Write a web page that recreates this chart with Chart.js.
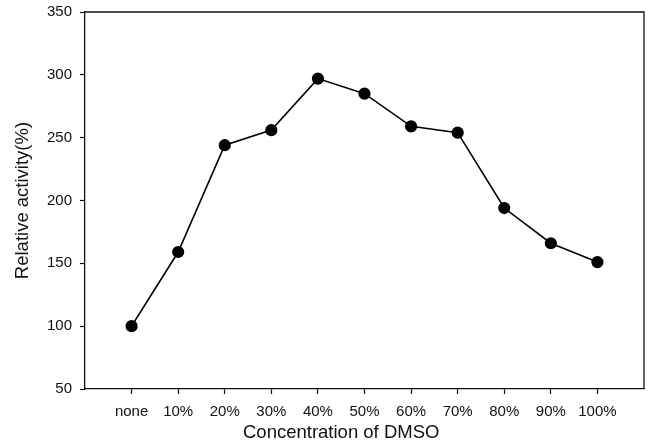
<!DOCTYPE html>
<html>
<head>
<meta charset="utf-8">
<script src="https://cdn.jsdelivr.net/npm/chart.js@4/dist/chart.umd.min.js"></script>
<style>
  html, body { margin: 0; padding: 0; background: #fff; }
  #wrap { width: 651px; height: 445px; }
</style>
</head>
<body>
<div id="wrap"><canvas id="c" width="651" height="445"></canvas></div>
<script>
// DMSO concentration vs. relative enzyme activity
const concentrations = ['none', '10%', '20%', '30%', '40%', '50%', '60%', '70%', '80%', '90%', '100%'];
const activity = [100, 159, 244, 256, 297, 285, 259, 254, 194, 166, 151];
const yTicks = [50, 100, 150, 200, 250, 300, 350];
const xTitle = 'Concentration of DMSO';
const yTitle = 'Relative activity(%)';

const points = activity.map((v, i) => ({ x: i, y: v }));
const FONT = '"Liberation Sans", Arial, Helvetica, sans-serif';

// Closes the frame (top and right edges) and writes the x-axis caption
const frame = {
  id: 'frame',
  afterDraw(chart) {
    const { ctx, chartArea: a } = chart;
    ctx.save();
    ctx.strokeStyle = '#111';
    ctx.lineWidth = 1.3;
    ctx.beginPath();
    ctx.moveTo(a.left, a.top);
    ctx.lineTo(a.right, a.top);
    ctx.lineTo(a.right, a.bottom);
    ctx.stroke();

    const xs = chart.scales.x;
    ctx.fillStyle = '#111';
    ctx.font = '18.5px ' + FONT;
    ctx.textAlign = 'center';
    ctx.textBaseline = 'middle';
    ctx.fillText(xTitle, xs.getPixelForValue(4.5), chart.height - 12);
    ctx.restore();
  }
};

new Chart(document.getElementById('c'), {
  type: 'line',
  data: {
    datasets: [{
      data: points,
      borderColor: '#000',
      borderWidth: 1.6,
      backgroundColor: '#000',
      pointBackgroundColor: '#000',
      pointBorderColor: '#000',
      pointRadius: 5.3,
      pointHoverRadius: 5.3,
      tension: 0,
      fill: false
    }]
  },
  options: {
    responsive: false,
    animation: false,
    devicePixelRatio: 1,
    layout: { padding: { top: 12, right: 7, left: 0, bottom: 0 } },
    plugins: { legend: { display: false }, tooltip: { enabled: false } },
    scales: {
      x: {
        type: 'linear',
        min: -1,
        max: concentrations.length,
        afterFit(s) {
          s.height = 56;
          s.paddingLeft = 0;
          s.paddingRight = 0;
        },
        afterBuildTicks(s) {
          const t = [];
          for (let i = -1; i <= concentrations.length; i++) t.push({ value: i });
          s.ticks = t;
        },
        border: { display: true, color: '#111', width: 1.3 },
        grid: {
          drawOnChartArea: false,
          drawTicks: true,
          tickLength: 5,
          tickWidth: 1.2,
          color: (ctx) => (ctx.tick && ctx.tick.value >= 0 && ctx.tick.value < concentrations.length) ? '#111' : 'rgba(0,0,0,0)'
        },
        ticks: {
          autoSkip: false,
          maxRotation: 0,
          padding: 9,
          color: '#111',
          font: { family: FONT, size: 15 },
          callback: (v) => concentrations[v] !== undefined ? concentrations[v] : ''
        },
        title: { display: false }
      },
      y: {
        type: 'linear',
        min: 50,
        max: 350,
        afterFit(s) {
          s.width = 85;
          s.paddingTop = 0;
          s.paddingBottom = 0;
        },
        afterBuildTicks(s) { s.ticks = yTicks.map(v => ({ value: v })); },
        border: { display: true, color: '#111', width: 1.3 },
        grid: {
          drawOnChartArea: false,
          drawTicks: true,
          tickLength: 5,
          tickWidth: 1.2,
          color: '#111'
        },
        ticks: {
          padding: 8,
          color: '#111',
          font: { family: FONT, size: 15 }
        },
        title: {
          display: true,
          text: yTitle,
          color: '#111',
          font: { family: FONT, size: 18.5 },
          padding: { top: 12, bottom: 0 }
        }
      }
    }
  },
  plugins: [frame]
});
</script>
</body>
</html>
